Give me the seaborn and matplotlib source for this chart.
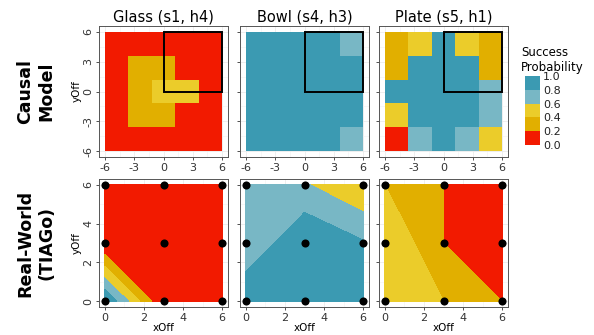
import numpy as np
import pandas as pd
import seaborn as sns
import matplotlib.pyplot as plt
import matplotlib.tri as mtri
from matplotlib.colors import ListedColormap, BoundaryNorm
from matplotlib.cm import ScalarMappable
from matplotlib.patches import Rectangle

# panel titles and row labels
objects = ['Glass (s1, h4)', 'Bowl (s4, h3)', 'Plate (s5, h1)']
row_labels = ['Causal\nModel', 'Real-World\n(TIAGo)']

# causal model grid (rows listed from top yOff=4.8 down to -4.8)
cm_x = [-4.8, -2.4, 0.0, 2.4, 4.8]
cm_y = [4.8, 2.4, 0.0, -2.4, -4.8]
cm_glass = [[0.05, 0.05, 0.10, 0.05, 0.05],
            [0.05, 0.30, 0.35, 0.10, 0.05],
            [0.05, 0.30, 0.50, 0.45, 0.10],
            [0.05, 0.30, 0.35, 0.10, 0.05],
            [0.05, 0.05, 0.10, 0.05, 0.05]]
cm_bowl = [[0.90, 0.95, 0.95, 0.90, 0.75],
           [0.90, 0.95, 1.00, 0.95, 0.85],
           [0.90, 1.00, 1.00, 0.95, 0.85],
           [0.90, 0.95, 1.00, 0.95, 0.85],
           [0.90, 0.90, 0.95, 0.90, 0.75]]
cm_plate = [[0.30, 0.50, 0.85, 0.50, 0.30],
            [0.30, 0.90, 0.90, 0.90, 0.30],
            [0.85, 0.90, 0.95, 0.90, 0.70],
            [0.50, 0.85, 0.90, 0.85, 0.70],
            [0.10, 0.70, 0.85, 0.70, 0.50]]

# real-world trials on a 3x3 grid (rows listed from top yOff=6 down to 0)
rw_x = [0, 3, 6]
rw_y = [6, 3, 0]
rw_glass = [[0.0, 0.0, 0.0],
            [0.0, 0.0, 0.0],
            [1.0, 0.0, 0.0]]
rw_bowl = [[0.65, 0.62, 0.41],
           [0.61, 1.00, 0.82],
           [1.00, 1.00, 1.00]]
rw_plate = [[0.4, 0.2, 0.0],
            [0.6, 0.2, 0.0],
            [0.6, 0.4, 0.2]]
# how each grid cell (BL, BR, TL, TR) was split into triangles for interpolation
rw_diag = [['anti', 'anti', 'anti', 'anti'],
           ['main', 'main', 'main', 'anti'],
           ['anti', 'anti', 'anti', 'anti']]

levels = [0.0, 0.2, 0.4, 0.6, 0.8, 1.0]
palette = ['#F21A00', '#E1AF00', '#EBCC2A', '#78B7C5', '#3B9AB2']
cmap = ListedColormap(palette)
norm = BoundaryNorm(levels, cmap.N)
# nudge the outer bounds so flat areas at exactly 0 or 1 still get filled
fill_levels = [levels[0] - 1e-3] + levels[1:-1] + [levels[-1] + 1e-3]

sns.set_theme(style='white')
plt.rcParams['font.family'] = ['DejaVu Sans']
plt.rcParams['axes.unicode_minus'] = False
plt.rcParams['text.color'] = 'black'
plt.rcParams['axes.labelcolor'] = 'black'

fig = plt.figure(figsize=(5.94, 3.35), dpi=100)
W, H = 594, 335
lefts = [99, 240, 379]
pw = 129


def style_axes(ax, major, minor, lim):
    ax.set_xlim(lim)
    ax.set_ylim(lim)
    ax.set_xticks(major)
    ax.set_yticks(major)
    ax.set_xticks(minor, minor=True)
    ax.set_yticks(minor, minor=True)
    ax.grid(True, which='major', color='#EBEBEB', lw=0.6, zorder=0)
    ax.grid(True, which='minor', color='#F2F2F2', lw=0.4, zorder=0)
    ax.set_axisbelow(True)
    ax.tick_params(which='major', direction='out', length=2.5, width=0.6,
                   color='#333333', labelsize=8, labelcolor='#333333', pad=1.5,
                   bottom=True, left=True)
    ax.tick_params(which='minor', length=0)
    for lab in ax.get_yticklabels():
        lab.set_rotation(90)
        lab.set_va('center')
    for s in ax.spines.values():
        s.set_color('#555555')
        s.set_linewidth(0.7)


def cell_triangles(diags):
    def idx(i, j):
        return j * 3 + i
    tris = []
    cells = [(0, 0), (1, 0), (0, 1), (1, 1)]
    for (i, j), d in zip(cells, diags):
        a, b, c, e = idx(i, j), idx(i + 1, j), idx(i, j + 1), idx(i + 1, j + 1)
        if d == 'main':
            tris += [[a, b, e], [a, e, c]]
        else:
            tris += [[a, b, c], [b, e, c]]
    return tris


cm_data = [cm_glass, cm_bowl, cm_plate]
rw_data = [rw_glass, rw_bowl, rw_plate]

gx, gy = np.meshgrid(rw_x, rw_y[::-1])

for k in range(3):
    # top row: causal model tiles
    ax = fig.add_axes([lefts[k] / W, 1 - 157 / H, pw / W, 131 / H])
    ax.pcolormesh(cm_x, cm_y, np.array(cm_data[k]), shading='nearest',
                  cmap=cmap, norm=norm, zorder=1)
    ax.add_patch(Rectangle((min(rw_x), min(rw_y)), max(rw_x) - min(rw_x),
                           max(rw_y) - min(rw_y), fill=False, ec='black',
                           lw=1.4, zorder=3))
    style_axes(ax, [-6, -3, 0, 3, 6], [-4.5, -1.5, 1.5, 4.5], (-6.6, 6.6))
    ax.set_title(objects[k], fontsize=10.5, pad=3, color='black')
    if k == 0:
        ax.set_ylabel('yOff', fontsize=7.5, labelpad=1)
    else:
        ax.set_yticklabels([])

    # bottom row: real-world interpolated success
    ax2 = fig.add_axes([lefts[k] / W, 1 - 307 / H, pw / W, 128 / H])
    z = np.array(rw_data[k])[::-1].ravel()
    tri = mtri.Triangulation(gx.ravel(), gy.ravel(), cell_triangles(rw_diag[k]))
    ax2.tricontourf(tri, z, levels=fill_levels, colors=palette, zorder=1)
    pts = pd.DataFrame({'xOff': gx.ravel(), 'yOff': gy.ravel()})
    sns.scatterplot(data=pts, x='xOff', y='yOff', color='black', s=34,
                    edgecolor='black', linewidth=0, ax=ax2, zorder=4,
                    clip_on=False, legend=False)
    style_axes(ax2, [0, 2, 4, 6], [1, 3, 5], (-0.3, 6.3))
    ax2.set_xlabel('xOff', fontsize=7.5, labelpad=0)
    if k == 0:
        ax2.set_ylabel('yOff', fontsize=7.5, labelpad=1)
    else:
        ax2.set_ylabel('')
        ax2.set_yticklabels([])

# row labels
fig.text(36 / W, 1 - 91.5 / H, row_labels[0], rotation=90, ha='center',
         va='center', fontsize=12.5, fontweight='bold', multialignment='center')
fig.text(36 / W, 1 - 243 / H, row_labels[1], rotation=90, ha='center',
         va='center', fontsize=12.5, fontweight='bold', multialignment='center')

# legend
cax = fig.add_axes([525 / W, 1 - 145 / H, 15 / W, 69 / H])
cb = fig.colorbar(ScalarMappable(norm=norm, cmap=cmap), cax=cax, ticks=levels)
cb.outline.set_visible(False)
cb.ax.tick_params(length=0, labelsize=8, labelcolor='#222222', pad=2)
cb.ax.set_yticklabels(['%.1f' % v for v in levels])
fig.text(521 / W, 1 - 46 / H, 'Success\nProbability', ha='left', va='top',
         fontsize=8.5, linespacing=1.15)

fig.savefig('out.png', dpi=100)
